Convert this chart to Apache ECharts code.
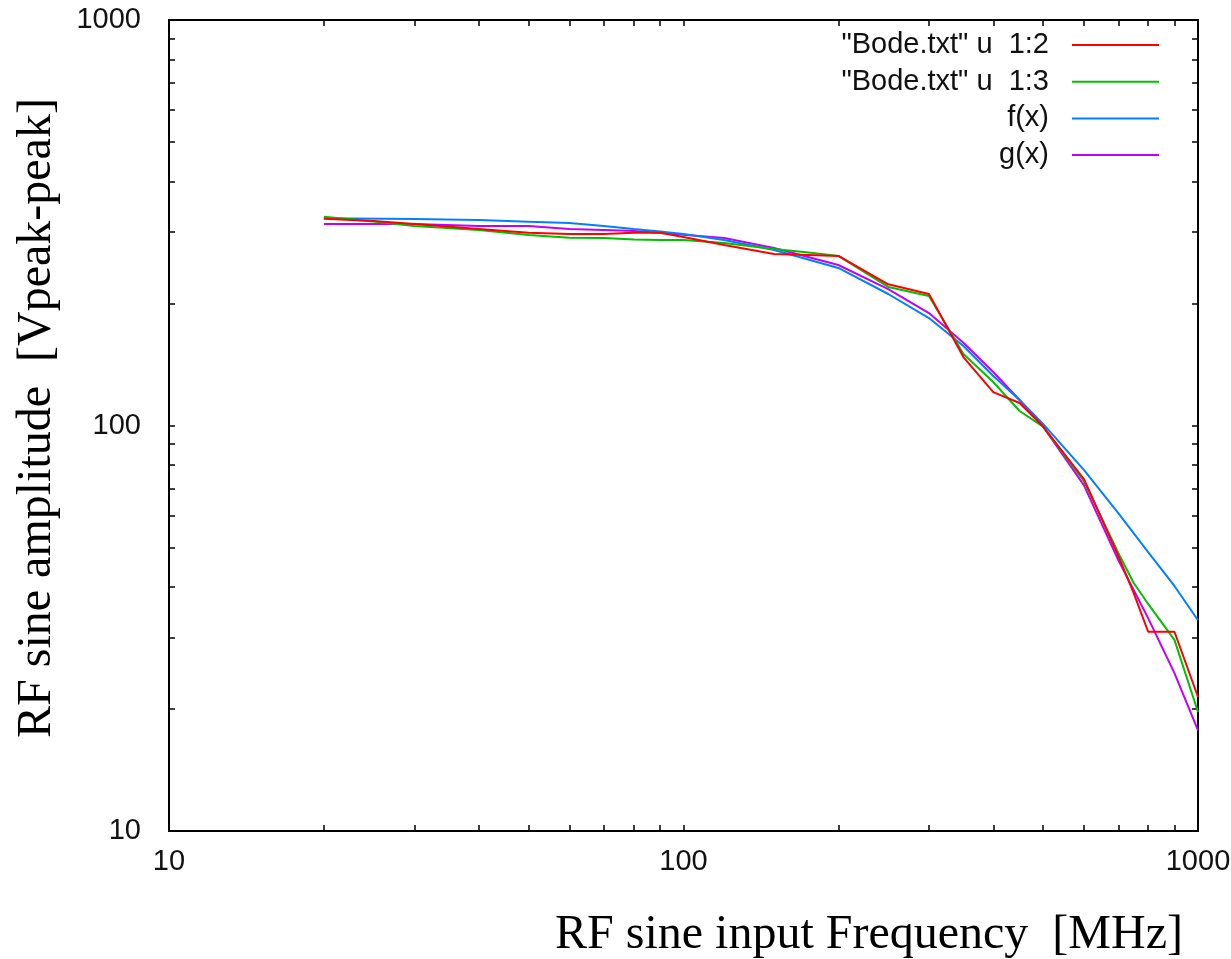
<!DOCTYPE html>
<html>
<head>
<meta charset="utf-8">
<script src="https://cdn.jsdelivr.net/npm/echarts@6/dist/echarts.min.js"></script>
<style>
  html,body{margin:0;padding:0;background:#fff}
  #chart{width:1231px;height:959px}
</style>
</head>
<body>
<div id="chart"></div>
<script>
  // measured points (MHz)
  var freqData=[20,25,30,40,50,60,70,80,90,100,120,150,175,200,250,300,350,400,450,500,600,700,750,800,900,1000]
  var ampl12=[323.5,319.4,314,305.3,298.6,296.7,296.7,298.6,298.6,291.6,278.7,264.8,263.4,262,223,211,147.5,120.9,113.6,99.4,73.8,47.7,38.6,31,31,21.4]
  var ampl13=[327.3,318.5,310.4,303.4,295,290.4,290,287.5,286.8,286.8,281.8,272.4,267,262,219.6,208.6,150,128,108.6,99.4,73,48.5,40.9,36.3,29.6,19.65]

  // fitted curves
  var freqFit=[20,30,40,50,60,70,80,90,100,120,150,200,250,300,350,400,450,500,600,700,800,900,1000]
  var amplF=[324.3,323.1,321.2,318.2,315.8,310.5,305.3,300.9,296.7,286.8,270.9,244.6,211,184.1,157.1,132.5,115.6,100.9,77.7,60.8,48.75,40.2,33.1]
  var amplG=[314,314,310.5,310.5,305.3,303.4,301.8,298.6,295.3,290,274,248.8,217,189.4,160,135.5,115.6,99.4,71.3,46.6,33.5,24.5,17.7]

  var seriesNames=['"Bode.txt" u  1:2','"Bode.txt" u  1:3','f(x)','g(x)']
  var seriesColors=['#ff0000','#00c000','#0080ff','#c000ff']
  var logTicks=[10,20,30,40,50,60,70,80,90,100,200,300,400,500,600,700,800,900,1000]

  var xTitle='RF sine input Frequency  [MHz]'
  var yTitle='RF sine amplitude  [Vpeak-peak]'

  var pairs=function (xs,ys) {
    return xs.map(function (x,i) { return [x,ys[i]] })
  }

  var chart=echarts.init(document.getElementById('chart'))

  var tickStyle={show:true,inside:true,length:6,customValues:logTicks,lineStyle:{color:'#000',width:1.5}}
  var lineAxis={show:true,onZero:false,lineStyle:{color:'#000',width:2}}
  var labelFont={fontFamily:'Liberation Sans, Arial, sans-serif',fontSize:29,color:'#111'}

  var mkAxis=function (pos,showLabel,extra) {
    return {
      type:'log',logBase:10,min:10,max:1000,position:pos,
      axisLine:lineAxis,axisTick:tickStyle,
      splitLine:{show:false},minorTick:{show:false},
      axisLabel:Object.assign({show:showLabel,formatter:function (v) { return String(Math.round(v)) }},labelFont,extra||{})
    }
  }

  var series=[
    [freqData,ampl12],[freqData,ampl13],[freqFit,amplF],[freqFit,amplG]
  ].map(function (d,i) {
    return {
      name:seriesNames[i],type:'line',
      data:pairs(d[0],d[1]),
      symbol:'none',showSymbol:false,smooth:false,silent:true,
      lineStyle:{color:seriesColors[i],width:2},
      itemStyle:{color:seriesColors[i]},
      z:4-i
    }
  })

  var option={
    animation:false,
    backgroundColor:'#fff',
    grid:{left:169,right:33,top:20,bottom:128,outerBoundsMode:'none',containLabel:false},
    legend:{
      orient:'vertical',align:'right',right:71,top:30,padding:0,
      itemWidth:87,itemHeight:14,itemGap:6.7,
      data:seriesNames,
      itemStyle:{opacity:0},
      textStyle:Object.assign({lineHeight:30,padding:[0,18,0,0]},labelFont)
    },
    xAxis:[
      mkAxis('bottom',true,{margin:16}),
      mkAxis('top',false)
    ],
    yAxis:[
      mkAxis('left',true,{margin:28,padding:[0,0,8,0]}),
      mkAxis('right',false)
    ],
    graphic:[
      {type:'text',x:869,y:935,style:{text:xTitle,font:'48px "Liberation Serif", "Times New Roman", serif',fill:'#000',align:'center',verticalAlign:'middle',textAlign:'center',textVerticalAlign:'middle'}},
      {type:'text',x:37,y:418,rotation:Math.PI/2,style:{text:yTitle,font:'48px "Liberation Serif", "Times New Roman", serif',fill:'#000',align:'center',verticalAlign:'middle',textAlign:'center',textVerticalAlign:'middle'}}
    ],
    series:series
  }

  chart.setOption(option)
</script>
</body>
</html>
